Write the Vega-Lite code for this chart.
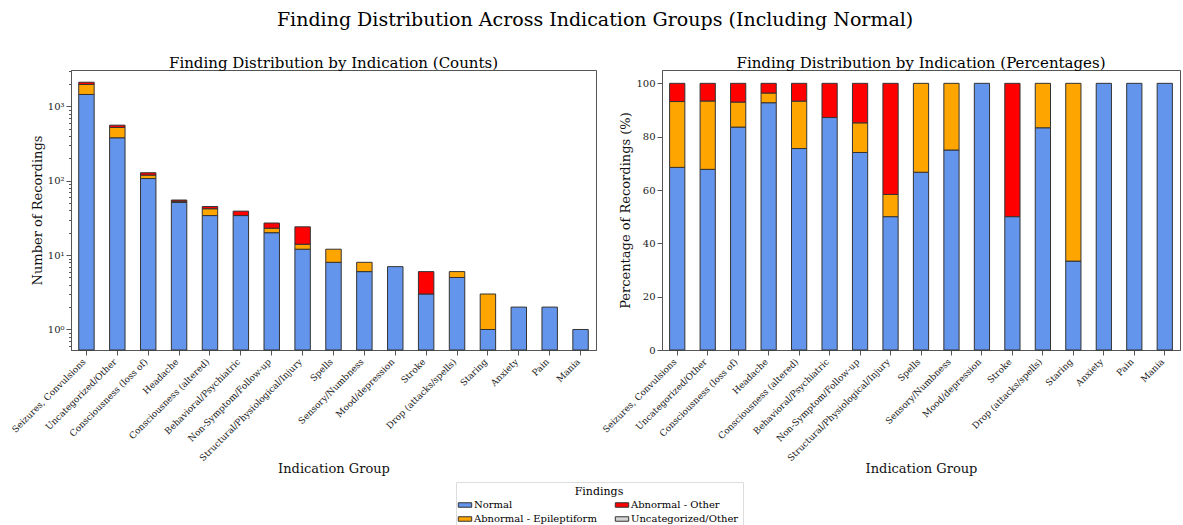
{
  "$schema": "https://vega.github.io/schema/vega-lite/v6.json",
  "padding": {"left": 9, "top": 10, "right": 0, "bottom": 0},
  "background": "white",
  "title": {"text": "Finding Distribution Across Indication Groups (Including Normal)", "fontSize": 19, "fontWeight": "normal", "anchor": "middle", "offset": 26},
  "config": {
    "font": "DejaVu Serif",
    "view": {"stroke": "#555", "strokeWidth": 1},
    "axis": {"labelFontSize": 10, "titleFontSize": 13, "titleFontWeight": "normal", "labelColor": "#222", "titleColor": "#111", "domainColor": "#555", "tickColor": "#555", "grid": false},
    "legend": {"labelFontSize": 10, "titleFontSize": 11, "titleFontWeight": "normal"},
    "title": {"fontWeight": "normal"}
  },
  "data": {"values": [
    {"indication": "Seizures, Convulsions", "finding": "Normal", "count": 1445, "rank": 1},
    {"indication": "Seizures, Convulsions", "finding": "Abnormal - Epileptiform", "count": 521, "rank": 2},
    {"indication": "Seizures, Convulsions", "finding": "Abnormal - Other", "count": 144, "rank": 3},
    {"indication": "Uncategorized/Other", "finding": "Normal", "count": 378, "rank": 1},
    {"indication": "Uncategorized/Other", "finding": "Abnormal - Epileptiform", "count": 143, "rank": 2},
    {"indication": "Uncategorized/Other", "finding": "Abnormal - Other", "count": 37, "rank": 3},
    {"indication": "Consciousness (loss of)", "finding": "Normal", "count": 107, "rank": 1},
    {"indication": "Consciousness (loss of)", "finding": "Abnormal - Epileptiform", "count": 12, "rank": 2},
    {"indication": "Consciousness (loss of)", "finding": "Abnormal - Other", "count": 9, "rank": 3},
    {"indication": "Headache", "finding": "Normal", "count": 51, "rank": 1},
    {"indication": "Headache", "finding": "Abnormal - Epileptiform", "count": 2, "rank": 2},
    {"indication": "Headache", "finding": "Abnormal - Other", "count": 2, "rank": 3},
    {"indication": "Consciousness (altered)", "finding": "Normal", "count": 34, "rank": 1},
    {"indication": "Consciousness (altered)", "finding": "Abnormal - Epileptiform", "count": 8, "rank": 2},
    {"indication": "Consciousness (altered)", "finding": "Abnormal - Other", "count": 3, "rank": 3},
    {"indication": "Behavioral/Psychiatric", "finding": "Normal", "count": 34, "rank": 1},
    {"indication": "Behavioral/Psychiatric", "finding": "Abnormal - Other", "count": 5, "rank": 3},
    {"indication": "Non-Symptom/Follow-up", "finding": "Normal", "count": 20, "rank": 1},
    {"indication": "Non-Symptom/Follow-up", "finding": "Abnormal - Epileptiform", "count": 3, "rank": 2},
    {"indication": "Non-Symptom/Follow-up", "finding": "Abnormal - Other", "count": 4, "rank": 3},
    {"indication": "Structural/Physiological/Injury", "finding": "Normal", "count": 12, "rank": 1},
    {"indication": "Structural/Physiological/Injury", "finding": "Abnormal - Epileptiform", "count": 2, "rank": 2},
    {"indication": "Structural/Physiological/Injury", "finding": "Abnormal - Other", "count": 10, "rank": 3},
    {"indication": "Spells", "finding": "Normal", "count": 8, "rank": 1},
    {"indication": "Spells", "finding": "Abnormal - Epileptiform", "count": 4, "rank": 2},
    {"indication": "Sensory/Numbness", "finding": "Normal", "count": 6, "rank": 1},
    {"indication": "Sensory/Numbness", "finding": "Abnormal - Epileptiform", "count": 2, "rank": 2},
    {"indication": "Mood/depression", "finding": "Normal", "count": 7, "rank": 1},
    {"indication": "Stroke", "finding": "Normal", "count": 3, "rank": 1},
    {"indication": "Stroke", "finding": "Abnormal - Other", "count": 3, "rank": 3},
    {"indication": "Drop (attacks/spells)", "finding": "Normal", "count": 5, "rank": 1},
    {"indication": "Drop (attacks/spells)", "finding": "Abnormal - Epileptiform", "count": 1, "rank": 2},
    {"indication": "Staring", "finding": "Normal", "count": 1, "rank": 1},
    {"indication": "Staring", "finding": "Abnormal - Epileptiform", "count": 2, "rank": 2},
    {"indication": "Anxiety", "finding": "Normal", "count": 2, "rank": 1},
    {"indication": "Pain", "finding": "Normal", "count": 2, "rank": 1},
    {"indication": "Mania", "finding": "Normal", "count": 1, "rank": 1}
  ]},
  "spacing": 3,
  "hconcat": [
    {
      "width": 525,
      "height": 280,
      "title": {"text": "Finding Distribution by Indication (Counts)", "fontSize": 15, "offset": -1},
      "transform": [
        {"stack": "count", "groupby": ["indication"], "sort": [{"field": "rank"}], "as": ["c0", "c1"]}
      ],
      "mark": {"type": "bar", "stroke": "#333", "strokeWidth": 1, "invalid": "show"},
      "encoding": {
        "x": {"field": "indication", "type": "nominal", "sort": null,
              "scale": {"paddingInner": 0.5, "paddingOuter": 0.25},
              "axis": {"title": "Indication Group", "labelFontSize": 9, "labelAngle": -45, "labelAlign": "right", "labelBaseline": "top", "labelOffset": -5, "titlePadding": 0, "labelPadding": 2}},
        "y": {"field": "c1", "type": "quantitative",
              "scale": {"type": "log", "domain": [0.53, 3080], "clamp": true, "nice": false},
              "axis": {"title": "Number of Recordings", "titlePadding": 3,
                       "values": [0.6,0.7,0.8,0.9,1,2,3,4,5,6,7,8,9,10,20,30,40,50,60,70,80,90,100,200,300,400,500,600,700,800,900,1000,2000,3000],
                       "labelExpr": "datum.value == 1 ? '10⁰' : datum.value == 10 ? '10¹' : datum.value == 100 ? '10²' : datum.value == 1000 ? '10³' : ''",
                       "tickSize": {"condition": {"test": "datum.value == 1 || datum.value == 10 || datum.value == 100 || datum.value == 1000", "value": 5}, "value": 2.5}}},
        "y2": {"field": "c0"},
        "color": {"field": "finding", "type": "nominal",
                  "scale": {"domain": ["Normal", "Abnormal - Epileptiform", "Abnormal - Other", "Uncategorized/Other"], "range": ["#6495ED", "#FFA500", "#FF0000", "#D3D3D3"]},
                  "legend": {"title": "Findings", "orient": "none", "legendX": 385, "legendY": 412, "columns": 2, "columnPadding": 16, "rowPadding": 4, "symbolType": "M-1.5,-0.5L1.5,-0.5L1.5,0.5L-1.5,0.5Z", "symbolSize": 80, "symbolStrokeColor": "#333", "symbolStrokeWidth": 1, "strokeColor": "#ddd", "padding": 4, "titleAnchor": "middle", "titlePadding": 3}}
      }
    },
    {
      "width": 518,
      "height": 280,
      "title": {"text": "Finding Distribution by Indication (Percentages)", "fontSize": 15, "offset": -1},
      "mark": {"type": "bar", "stroke": "#333", "strokeWidth": 1},
      "encoding": {
        "x": {"field": "indication", "type": "nominal", "sort": null,
              "scale": {"paddingInner": 0.5, "paddingOuter": 0.25},
              "axis": {"title": "Indication Group", "labelFontSize": 9, "labelAngle": -45, "labelAlign": "right", "labelBaseline": "top", "labelOffset": -5, "titlePadding": 0, "labelPadding": 2}},
        "y": {"field": "count", "type": "quantitative", "stack": "normalize",
              "scale": {"domain": [0, 1.05], "nice": false},
              "axis": {"title": "Percentage of Recordings (%)", "values": [0, 0.2, 0.4, 0.6, 0.8, 1], "labelExpr": "format(datum.value * 100, 'd')", "titlePadding": 3}},
        "order": {"field": "rank"},
        "color": {"field": "finding", "type": "nominal",
                  "scale": {"domain": ["Normal", "Abnormal - Epileptiform", "Abnormal - Other", "Uncategorized/Other"], "range": ["#6495ED", "#FFA500", "#FF0000", "#D3D3D3"]}}
      }
    }
  ]
}
